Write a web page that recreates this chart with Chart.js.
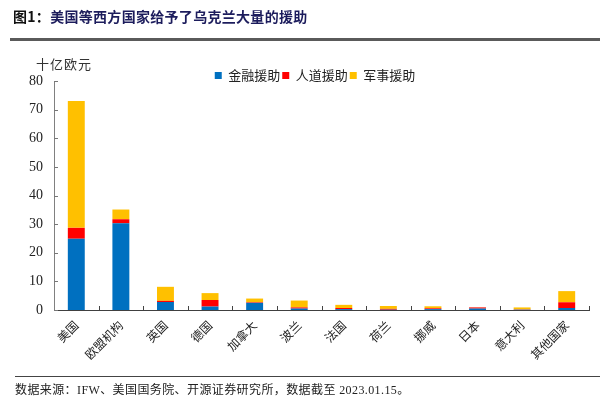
<!DOCTYPE html>
<html>
<head>
<meta charset="utf-8">
<script src="https://cdn.jsdelivr.net/npm/chart.js@4/dist/chart.umd.min.js"></script>
<style>
  html, body { margin: 0; padding: 0; background: #fff; }
  #wrap { position: relative; width: 600px; height: 405px; overflow: hidden; }
  #c { position: absolute; left: 0; top: 0; }
  .title { position: absolute; left: 13px; top: 6px; font: bold 14px "Noto Sans CJK SC", sans-serif; color: #1c1c5c; white-space: nowrap; letter-spacing: 0.3px; }
  .title .num { color: #111; }
  .topline { position: absolute; left: 10px; right: 0; top: 38px; height: 3px; background: #5a5a5a; }
  .unit { position: absolute; left: 36px; top: 54px; font: 13px "Noto Sans CJK SC", sans-serif; color: #333; letter-spacing: 1px; }
  .botline { position: absolute; left: 15px; right: 0; top: 376px; height: 1px; background: #444; }
  .foot { position: absolute; left: 15px; top: 380px; font: 12px "Liberation Serif", "Noto Sans CJK SC", serif; color: #222; white-space: nowrap; letter-spacing: 0.4px; }
</style>
</head>
<body>
<div id="wrap">
  <canvas id="c" width="600" height="405"></canvas>
  <div class="title"><span class="num">图1：</span>美国等西方国家给予了乌克兰大量的援助</div>
  <div class="topline"></div>
  <div class="unit">十亿欧元</div>
  <div class="botline"></div>
  <div class="foot">数据来源：IFW、美国国务院、开源证券研究所，数据截至 2023.01.15。</div>
</div>
<script>
const categories = ['美国','欧盟机构','英国','德国','加拿大','波兰','法国','荷兰','挪威','日本','意大利','其他国家'];
const financialAid    = [24.9, 30.3, 2.8, 1.2, 2.5, 0.5, 0.3, 0.1, 0.3, 0.5, 0.1, 0.7];
const humanitarianAid = [3.8, 1.4, 0.4, 2.3, 0.2, 0.4, 0.4, 0.3, 0.3, 0.4, 0.1, 2.0];
const militaryAid     = [44.3, 3.4, 4.9, 2.4, 1.3, 2.4, 1.1, 1.0, 0.7, 0.05, 0.7, 3.9];
const seriesNames = ['金融援助', '人道援助', '军事援助'];
const yMin = 0, yMax = 80, yStep = 10;

const axisTicks = {
  id: 'axisTicks',
  afterLayout(chart) {
    const lg = chart.legend;
    if (lg) { lg.top += 11; lg.bottom += 11; lg.left += 8; lg.right += 8; }
  },
  afterDraw(chart) {
    const ctx = chart.ctx, a = chart.chartArea;
    const y = chart.scales.y;
    ctx.save();
    ctx.strokeStyle = '#444';
    ctx.lineWidth = 1;
    const n = categories.length;
    const w = (a.right - a.left) / n;
    for (let i = 1; i <= n; i++) {
      const px = Math.round(a.left + i * w) + 0.5;
      ctx.beginPath(); ctx.moveTo(px, a.bottom); ctx.lineTo(px, a.bottom - 4); ctx.stroke();
    }
    ctx.strokeStyle = '#777';
    y.ticks.forEach(t => {
      const py = Math.round(y.getPixelForValue(t.value)) + 0.5;
      ctx.beginPath(); ctx.moveTo(a.left, py); ctx.lineTo(a.left + 4, py); ctx.stroke();
    });
    ctx.restore();
  }
};

new Chart(document.getElementById('c'), {
  type: 'bar',
  data: {
    labels: categories,
    datasets: [
      { label: seriesNames[0], data: financialAid, backgroundColor: '#0070C0' },
      { label: seriesNames[1], data: humanitarianAid, backgroundColor: '#FF0000' },
      { label: seriesNames[2], data: militaryAid, backgroundColor: '#FFC000' }
    ]
  },
  options: {
    responsive: false,
    animation: false,
    devicePixelRatio: 1,
    layout: { padding: { left: 25, right: 11, top: 56, bottom: 0 } },
    datasets: { bar: { categoryPercentage: 1, barPercentage: 0.38, borderWidth: 0 } },
    plugins: {
      legend: {
        position: 'top',
        align: 'center',
        labels: {
          boxWidth: 7, boxHeight: 7, padding: 2,
          color: '#222',
          font: { family: '"Noto Sans CJK SC", sans-serif', size: 13 }
        }
      },
      tooltip: { enabled: false },
      title: { display: false }
    },
    scales: {
      x: {
        stacked: true,
        grid: { display: false, drawTicks: false },
        border: { display: true, color: '#404040', width: 1 },
        ticks: {
          autoSkip: false, minRotation: 45, maxRotation: 45, padding: 8,
          color: '#222',
          font: { family: '"Noto Sans CJK SC", sans-serif', size: 12 }
        },
        afterFit(s) { s.height = 95; }
      },
      y: {
        stacked: true,
        min: yMin, max: yMax,
        grid: { display: false, drawTicks: false },
        border: { display: true, color: '#808080', width: 1 },
        ticks: {
          stepSize: yStep,
          autoSkip: false,
          padding: 11,
          color: '#222',
          font: { family: '"Liberation Serif", serif', size: 14 }
        },
        afterFit(s) { s.width = 29; }
      }
    }
  },
  plugins: [axisTicks]
});
</script>
</body>
</html>
